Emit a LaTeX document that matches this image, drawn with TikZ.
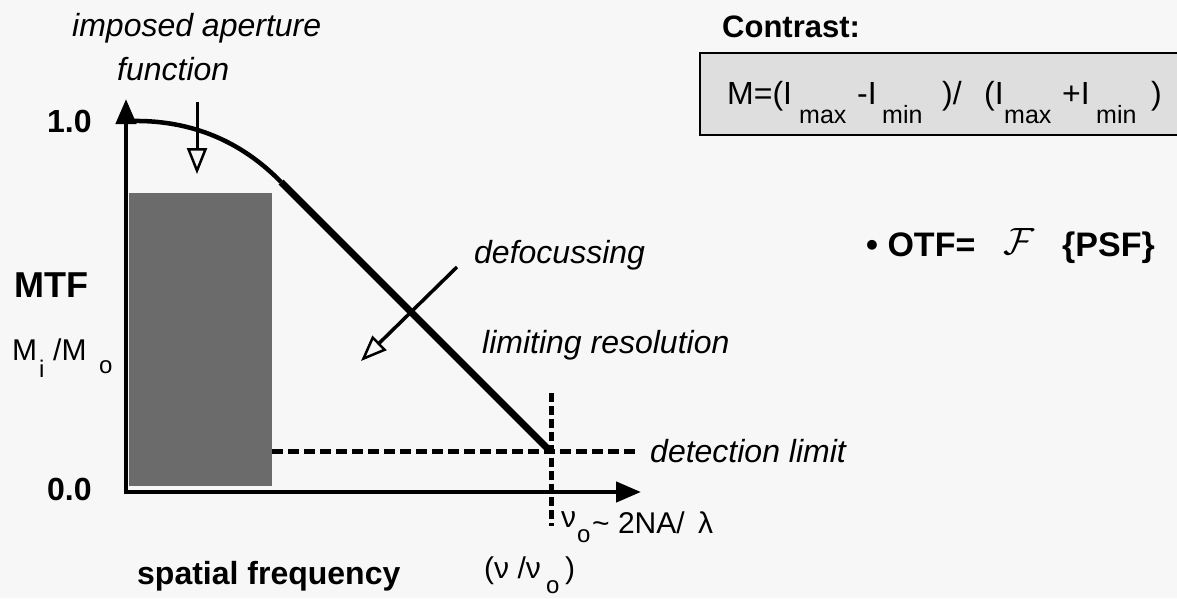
\documentclass[tikz,border=0pt]{standalone}
\usepackage{fontspec}
\setmainfont{Liberation Sans}
\setsansfont{Liberation Sans}
\usetikzlibrary{arrows.meta}
\definecolor{bg}{RGB}{247,247,247}
\begin{document}
\begin{tikzpicture}[x=1pt,y=-1pt,
  lbl/.style={inner sep=0pt, anchor=base west, font=\fontsize{32}{36}\selectfont\itshape},
  boldlbl/.style={inner sep=0pt, anchor=base west, font=\fontsize{32}{36}\selectfont\bfseries},
  reglbl/.style={inner sep=0pt, anchor=base west, font=\fontsize{30}{34}\selectfont},
  sublbl/.style={inner sep=0pt, anchor=base west, font=\fontsize{24}{28}\selectfont},
  fmain/.style={inner sep=0pt, anchor=base west, font=\fontsize{32}{36}\selectfont},
  fsub/.style={inner sep=0pt, anchor=base west, font=\fontsize{25}{28}\selectfont},
  axisline/.style={line width=4.5pt, -{Triangle[length=25pt,width=20pt]}},
  openarrow/.style={line width=3pt, -{Triangle[open,length=26pt,width=20pt,line width=2.5pt]}},
  limitline/.style={line width=5pt, dash pattern=on 11pt off 5pt},
]
\fill[bg] (0,0) rectangle (1177,598);
\useasboundingbox (0,0) rectangle (1177,598);

% aperture rectangle
\fill[black!58] (129,193) rectangle (272,486);

% coordinates
\coordinate (origin) at (126,494);
\coordinate (ytip) at (126,99);
\coordinate (xorigin) at (124,492);
\coordinate (xtip) at (641,492);
\coordinate (c0) at (133,121);
\coordinate (c1) at (281,182);
\coordinate (c2) at (549,450);
\coordinate (dl0) at (272,451);
\coordinate (dl1) at (638,451);
\coordinate (vl0) at (551,393);
\coordinate (vl1) at (551,526);
\coordinate (ap0) at (197,102);
\coordinate (ap1) at (197,174);
\coordinate (df0) at (457,267);
\coordinate (df1) at (361,361);

% dashed limits
\draw[limitline] (dl0) -- (dl1);
\draw[limitline, dash pattern=on 9pt off 4pt] (vl0) -- (vl1);

% axes
\draw[axisline] (origin) -- (ytip);
\draw[axisline] (xorigin) -- (xtip);

% MTF curve
\draw[line width=4.5pt] (c0) .. controls (200,120) and (248,148) .. (c1);
\draw[line width=7pt] (c1) -- (c2);

% arrows
\draw[openarrow] (ap0) -- (ap1);
\draw[openarrow, line width=3.5pt] (df0) -- (df1);

% labels
\node[lbl] (imp) at (72,36) {imposed aperture};
\node[lbl] (fun) at (117,80) {function};
\node[boldlbl] (one) at (47,132) {1.0};
\node[boldlbl] (zero) at (47,500) {0.0};
\node[boldlbl, font=\fontsize{36}{40}\selectfont\bfseries] (mtf) at (14,297) {MTF};
\node[reglbl] (mi) at (12,360) {M};
\node[sublbl] (mis) at (39,377) {i};
\node[reglbl] (mo) at (53,360) {/M};
\node[sublbl] (mos) at (99,373) {o};
\node[lbl] (defoc) at (474,263) {defocussing};
\node[lbl] (limres) at (482,353) {limiting resolution};
\node[lbl] (detlim) at (650,462) {detection limit};
\node[boldlbl] (spf) at (137,584) {spatial frequency};
\node[reglbl] (nu0) at (561,527) {ν};
\node[sublbl] (nu0s) at (577,542) {o};
\node[reglbl] (nuf) at (592,533) {\textasciitilde\ 2NA/ \,λ};
\node[reglbl] (ratio) at (484,578) {(ν /ν};
\node[sublbl] (ratios) at (546,593) {o};
\node[reglbl] (ratioc) at (565,578) {)};

% contrast
\node[boldlbl, font=\fontsize{31}{35}\selectfont\bfseries] (contrast) at (722,37) {Contrast:};
\draw[line width=2.5pt, fill=black!13] (700,53) rectangle (1185,135);
\node[fmain] (fa) at (727,104) {M=(I};
\node[fsub] (fb) at (799,123) {max};
\node[fmain] (fc) at (857,104) {-I};
\node[fsub] (fd) at (882,123) {min};
\node[fmain] (fe) at (942,104) {)/};
\node[fmain] (ff) at (984,104) {(I};
\node[fsub] (fg) at (1004,123) {max};
\node[fmain] (fh) at (1062,104) {+I};
\node[fsub] (fi) at (1096,123) {min};
\node[fmain] (fj) at (1151,104) {)};

% OTF
\node[boldlbl, font=\fontsize{34}{38}\selectfont\bfseries] (otf) at (866,256) {• OTF=};
\node[inner sep=0pt, anchor=base west, scale=3.8] (ft) at (1003,254) {$\mathcal{F}$};
\node[boldlbl, font=\fontsize{34}{38}\selectfont\bfseries] (psf) at (1062,256) {\{PSF\}};
\end{tikzpicture}
\end{document}
